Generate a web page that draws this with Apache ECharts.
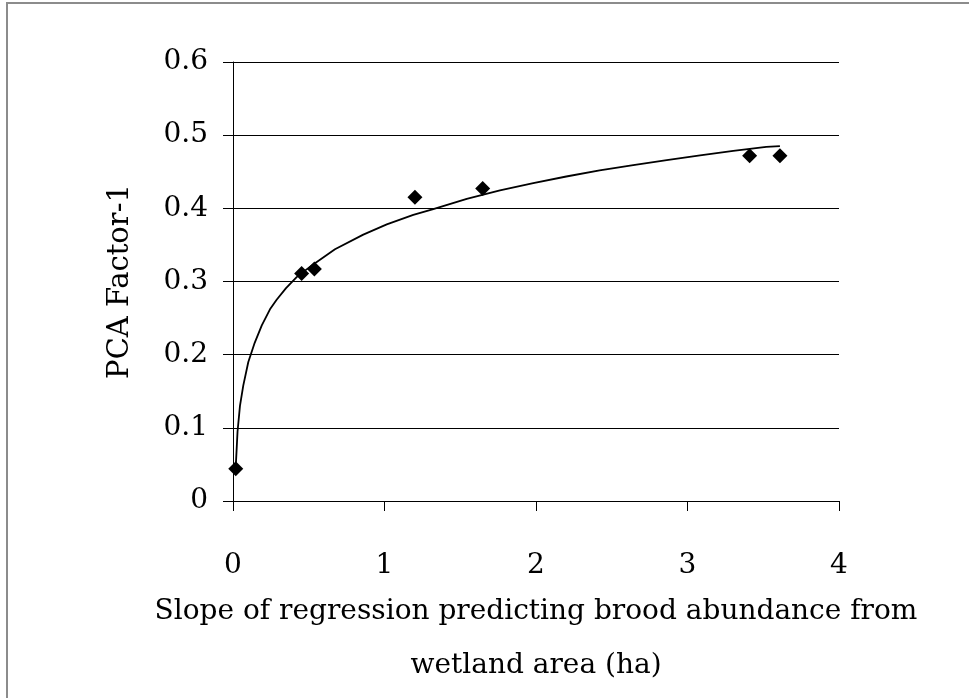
<!DOCTYPE html>
<html>
<head>
<meta charset="utf-8">
<title>PCA Factor-1 vs slope</title>
<script src="https://cdn.jsdelivr.net/npm/echarts@6/dist/echarts.min.js"></script>
<style>
  html, body { margin: 0; padding: 0; background: #fff; }
  #container { width: 969px; height: 698px; }
</style>
</head>
<body>
<div id="container"></div>
<script>
// observed points (slope, PCA factor-1)
var slopes = [0.018, 0.453, 0.537, 1.201, 1.648, 3.41, 3.61];
var factors = [0.044, 0.311, 0.317, 0.415, 0.427, 0.472, 0.472];

// logarithmic trend line
var trendX = [0.018, 0.03, 0.046, 0.068, 0.101, 0.141, 0.19, 0.244, 0.288, 0.35, 0.42, 0.52, 0.673, 0.86, 1.015, 1.19, 1.322, 1.543, 1.762, 1.982, 2.2, 2.42, 2.642, 2.863, 3.083, 3.302, 3.52, 3.61];
var trendY = [0.046, 0.095, 0.13, 0.158, 0.19, 0.215, 0.24, 0.262, 0.275, 0.291, 0.306, 0.322, 0.344, 0.364, 0.378, 0.391, 0.399, 0.413, 0.4245, 0.4345, 0.4435, 0.452, 0.459, 0.466, 0.4725, 0.4785, 0.484, 0.485];

var yTicks = ['0', '0.1', '0.2', '0.3', '0.4', '0.5', '0.6'];

var font = '"DejaVu Serif", "Liberation Serif", serif';

function pairs(xs, ys) {
	var out = [];
	for (var i = 0; i < xs.length; i++) {
		out.push([xs[i], ys[i]]);
	}
	return out;
}

var dom = document.getElementById("container");
var myChart = echarts.init(dom);
var option = {
	animation: false,
	backgroundColor: '#fff',
	graphic: [{
		type: 'rect',
		shape: { x: 7, y: 3, width: 1000, height: 800 },
		style: { fill: 'none', stroke: '#8c8c8c', lineWidth: 2 }
	}],
	grid: {
		left: 233,
		right: 130,
		top: 62,
		bottom: 194
	},
	xAxis: {
		type: 'value',
		min: 0,
		max: 4,
		interval: 1,
		name: 'Slope of regression predicting brood abundance from\nwetland area (ha)',
		nameLocation: 'middle',
		nameGap: 84,
		nameTextStyle: {
			fontFamily: font,
			fontSize: 28,
			color: '#000',
			lineHeight: 54
		},
		axisLine: { show: true, onZero: false, lineStyle: { color: '#000', width: 1 } },
		axisTick: { show: true, inside: false, length: 10, lineStyle: { color: '#000' } },
		axisLabel: {
			margin: 51,
			fontFamily: font,
			fontSize: 28,
			color: '#000'
		},
		splitLine: { show: false }
	},
	yAxis: {
		type: 'value',
		min: 0,
		max: 0.6,
		interval: 0.1,
		name: 'PCA Factor-1',
		nameLocation: 'middle',
		nameRotate: 90,
		nameGap: 98,
		nameTextStyle: {
			fontFamily: font,
			fontSize: 29,
			color: '#000'
		},
		axisLine: { show: true, lineStyle: { color: '#000', width: 1 } },
		axisTick: { show: true, inside: false, length: 10, lineStyle: { color: '#000' } },
		axisLabel: {
			margin: 25,
			fontFamily: font,
			fontSize: 28,
			color: '#000',
			padding: [6, 0, 0, 0],
			formatter: function (v) {
				return yTicks[Math.round(v * 10)];
			}
		},
		splitLine: { show: true, lineStyle: { color: '#000', width: 1 } }
	},
	series: [
		{
			name: 'trend',
			type: 'line',
			data: pairs(trendX, trendY),
			showSymbol: false,
			smooth: false,
			lineStyle: { color: '#000', width: 1.8 },
			z: 3
		},
		{
			name: 'points',
			type: 'scatter',
			data: pairs(slopes, factors),
			symbol: 'diamond',
			symbolSize: 15,
			itemStyle: { color: '#000', opacity: 1 },
			z: 2
		}
	]
};
if (option && typeof option === "object") {
	myChart.setOption(option, true);
}
</script>
</body>
</html>
